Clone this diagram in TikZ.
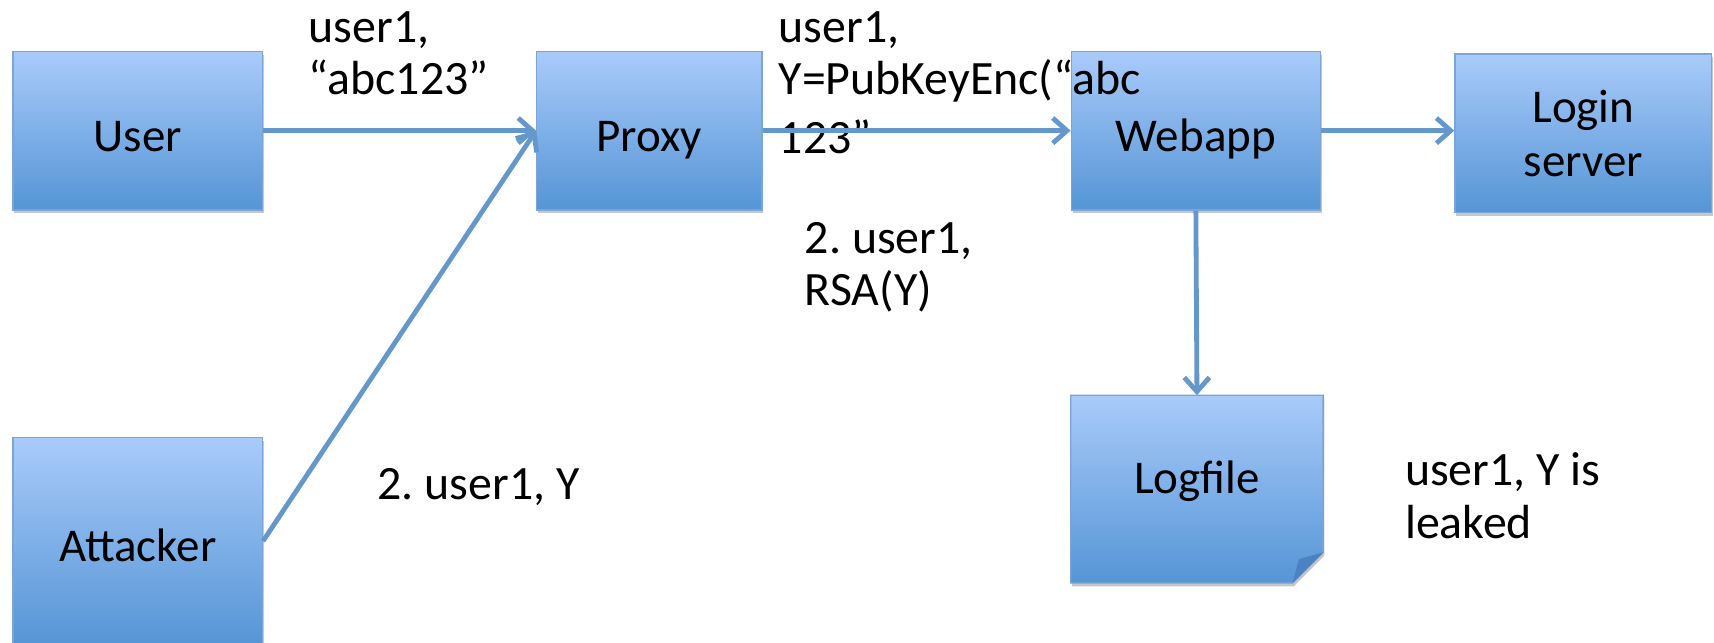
\documentclass[tikz,border=0pt]{standalone}
\usepackage{fontspec}
\setmainfont{Carlito}
\usetikzlibrary{arrows.meta,shadows,calc}
\definecolor{boxtop}{HTML}{A9CBFA}
\definecolor{boxbot}{HTML}{5595D6}
\definecolor{boxline}{HTML}{7AA5D6}
\definecolor{arrowc}{HTML}{6497CB}
\definecolor{folddark}{HTML}{4A82C2}
\newcommand\boxfont{\fontsize{21.5pt}{24.5pt}\selectfont}
\newcommand\lblfont{\fontsize{21.9pt}{24pt}\selectfont}
\pgfdeclarelayer{background}
\pgfsetlayers{background,main}
\frenchspacing
\begin{document}
\begin{tikzpicture}[x=0.5pt,y=-0.5pt,
  box/.style={draw=boxline, line width=0.6pt, top color=boxtop, bottom color=boxbot,
    inner sep=0pt, align=center, font=\boxfont,
    drop shadow={shadow xshift=0.6pt, shadow yshift=-1.5pt, opacity=0.22, fill=black}},
  oneline/.style={text height=23.5pt, text depth=4.5pt},
  conn/.style={draw=arrowc, line width=2.2pt, -{Straight Barb[length=6.5pt,width=11.5pt,line width=2.2pt]}},
  lbl/.style={inner sep=0pt, anchor=north west, align=left, font=\lblfont}]
\useasboundingbox (0,0) rectangle (1568,588);
\clip (0,0) rectangle (1568,588);
% boxes
\node[box, oneline, minimum width=114pt, minimum height=72.5pt] (user) at (126,119.5) {User};
\node[box, oneline, minimum width=103pt, minimum height=72.5pt] (proxy) at (594,119.5) {Proxy};
\node[box, oneline, minimum width=114pt, minimum height=72.5pt] (webapp) at (1094,119.5) {Webapp};
\node[box, minimum width=117.5pt, minimum height=72.5pt] (login) at (1448.5,122) {Login\\server};
\node[box, oneline, minimum width=114pt, minimum height=95pt] (attacker) at (126,495) {Attacker};
% logfile (note shape with folded corner)
\node[inner sep=0pt, minimum width=115pt, minimum height=85.5pt] (logfile) at (1095,447.5) {};
\begin{pgfonlayer}{background}
  \fill[black, opacity=0.22] ($(logfile.north west)+(1.2,3)$) -- ($(logfile.north east)+(1.2,3)$)
    -- ($(logfile.south east)+(1.2,-25)$) -- ($(logfile.south east)+(-26.8,3)$)
    -- ($(logfile.south west)+(1.2,3)$) -- cycle;
  \shade[top color=boxtop, bottom color=boxbot, draw=boxline, line width=0.6pt]
    (logfile.north west) -- (logfile.north east) -- ($(logfile.south east)+(0,-28)$)
    -- ($(logfile.south east)+(-28,0)$) -- (logfile.south west) -- cycle;
  \fill[folddark] ($(logfile.south east)+(0,-28)$) -- ($(logfile.south east)+(-22,-22)$)
    -- ($(logfile.south east)+(-28,0)$) -- cycle;
\end{pgfonlayer}
\node[inner sep=0pt, font=\boxfont] (logtext) at (1095,440) {Logfile};
% labels
\node[lbl] (l1) at (282,10) {user1,\\“abc123”};
\node[lbl] (l2) at (712,10) {user1,\\Y=PubKeyEnc(“abc\\[3pt]123”};
\node[lbl] (l3) at (736,203) {2. user1,\\RSA(Y)};
\node[lbl] (l4) at (345,428) {2. user1, Y};
\node[lbl] (l5) at (1285,414) {user1, Y is\\leaked};
% connectors
\draw[conn] (user.east) -- (proxy.west);
\draw[conn] (attacker.east) -- (proxy.west);
\draw[conn] (proxy.east) -- (webapp.west);
\draw[conn] (webapp.east) -- (login.west |- webapp.east);
\draw[conn] (webapp.south) -- (logfile.north);
\end{tikzpicture}
\end{document}
